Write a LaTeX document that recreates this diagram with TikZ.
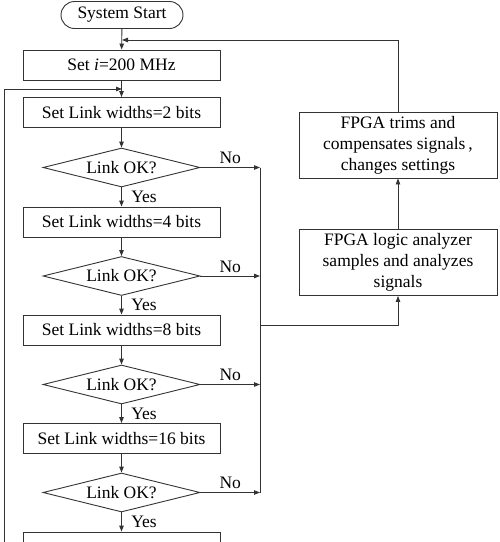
\documentclass[tikz,border=0pt]{standalone}
\usepackage{fontspec}
\setmainfont{Liberation Serif}
\usetikzlibrary{arrows.meta,shapes.geometric,shapes.misc}

\begin{document}
\begin{tikzpicture}[x = 1pt, y = -1pt,
	every node/.style = {
		font = \fontsize{17.5}{21}\selectfont
	},
	line/.style = {
		draw = black!80,
		line width = 0.9pt
	},
	arr/.style = {
		line,
		-{Triangle[length = 6pt, width = 4.5pt]}
	},
	startbox/.style = {
		line,
		rounded rectangle,
		minimum width = 122pt,
		minimum height = 27pt,
		inner sep = 0pt
	},
	stepbox/.style = {
		line,
		rectangle,
		minimum width = 197pt,
		minimum height = 30pt,
		inner sep = 0pt
	},
	testbox/.style = {
		line,
		diamond,
		aspect = 4,
		minimum width = 157pt,
		minimum height = 39pt,
		inner sep = 0pt
	},
	fpgabox/.style = {
		line,
		rectangle,
		align = center,
		minimum width = 198pt,
		minimum height = 66pt,
		inner sep = 0pt
	}]
	\clip (0, 0) rectangle (500, 542);
	% main column
	\node[startbox] (start) at (122, 15) {System Start};
	\node[stepbox] (freq) at (121.5, 65) {Set \textit{i}=200 MHz};
	\node[stepbox] (w2) at (121.5, 112.5) {Set Link widths=2 bits};
	\node[testbox] (ok2) at (121.5, 167.5) {Link OK?};
	\node[stepbox] (w4) at (121.5, 222) {Set Link widths=4 bits};
	\node[testbox] (ok4) at (121.5, 276) {Link OK?};
	\node[stepbox] (w8) at (121.5, 330) {Set Link widths=8 bits};
	\node[testbox] (ok8) at (121.5, 384.5) {Link OK?};
	\node[stepbox] (w16) at (121.5, 438.5) {Set Link widths=16 bits};
	\node[testbox] (ok16) at (121.5, 492.5) {Link OK?};
	\node[stepbox] (wnext) at (121.5, 547) {};
	% FPGA side
	\node[fpgabox] (trim) at (398, 145) {FPGA trims and\\compensates signals\,,\\changes settings};
	\node[fpgabox] (analyze) at (398, 262.5) {FPGA logic analyzer\\samples and analyzes\\signals};
	\coordinate (bus) at (260, 325);
	\coordinate (retry) at (122, 40);
	\coordinate (loopin) at (122, 89);
	\coordinate (loopfoot) at (4, 560);

	\draw[arr] (start) -- (freq);
	\draw[arr] (freq) -- (w2);
	\draw[arr] (w2) -- (ok2);
	\draw[arr] (ok2) -- node[right = 6pt] {Yes} (w4);
	\draw[arr] (w4) -- (ok4);
	\draw[arr] (ok4) -- node[right = 6pt] {Yes} (w8);
	\draw[arr] (w8) -- (ok8);
	\draw[arr] (ok8) -- node[right = 6pt] {Yes} (w16);
	\draw[arr] (w16) -- (ok16);
	\draw[arr] (ok16) -- node[right = 6pt] {Yes} (wnext);

	\draw[arr] (ok2.east) -- node[above] {No} (ok2.east -| bus);
	\draw[arr] (ok4.east) -- node[above] {No} (ok4.east -| bus);
	\draw[arr] (ok8.east) -- node[above] {No} (ok8.east -| bus);
	\draw[arr] (ok16.east) -- node[above] {No} (ok16.east -| bus);
	\draw[line] (ok2.east -| bus) -- (ok16.east -| bus);

	\draw[arr] (bus) -| (analyze);
	\draw[arr] (analyze) -- (trim);
	\draw[arr] (trim) |- (retry);
	\draw[arr] (loopfoot) |- (loopin);
\end{tikzpicture}
\end{document}
